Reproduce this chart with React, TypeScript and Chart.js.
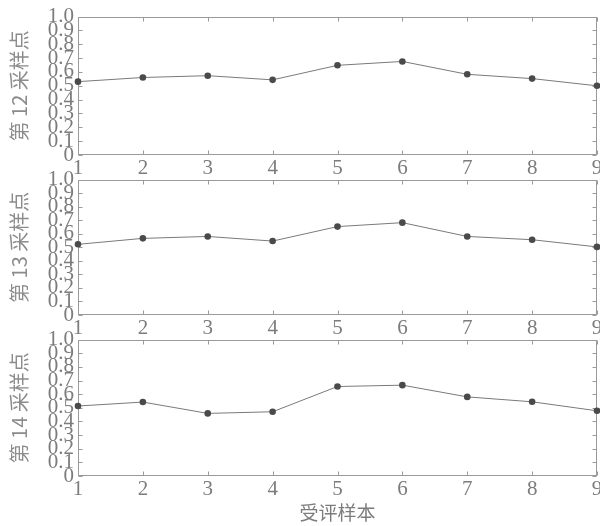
import React, { useEffect, useRef } from "react";
import { Chart, registerables } from "chart.js";

Chart.register(...registerables);

const samples = ["1", "2", "3", "4", "5", "6", "7", "8", "9"];
const yTickLabels = ["0", "0.1", "0.2", "0.3", "0.4", "0.5", "0.6", "0.7", "0.8", "0.9", "1.0"];
const point12 = [0.53, 0.56, 0.573, 0.543, 0.648, 0.676, 0.583, 0.552, 0.5];
const point13 = [0.522, 0.566, 0.58, 0.546, 0.653, 0.682, 0.58, 0.556, 0.503];
const point14 = [0.513, 0.542, 0.459, 0.471, 0.656, 0.666, 0.58, 0.544, 0.478];
const panelTitles = ["第 12 采样点", "第 13 采样点", "第 14 采样点"];
const xTitle = "受评样本";

const AXIS = "#9a9a9a";
const TEXT = "#7c7c7c";
const SERIF = '"Liberation Serif", "DejaVu Serif", serif';
const CJK = '"Noto Sans CJK SC", sans-serif';

const framePlugin = {
  id: "frame",
  beforeDatasetsDraw(chart: any) {
    const { ctx, chartArea: a, scales } = chart;
    ctx.save();
    ctx.strokeStyle = AXIS;
    ctx.lineWidth = 1;
    const L = Math.round(a.left) + 0.5;
    const R = Math.round(a.right) - 0.5;
    const T = Math.round(a.top) + 0.5;
    const B = Math.round(a.bottom) - 0.5;
    ctx.strokeRect(L, T, R - L, B - T);
    ctx.beginPath();
    scales.y.ticks.forEach((t: any) => {
      const y = Math.round(scales.y.getPixelForValue(t.value)) + 0.5;
      ctx.moveTo(L, y);
      ctx.lineTo(L + 4, y);
      ctx.moveTo(R, y);
      ctx.lineTo(R - 4, y);
    });
    scales.x.ticks.forEach((_t: any, i: number) => {
      const x = Math.round(scales.x.getPixelForTick(i)) + 0.5;
      ctx.moveTo(x, T);
      ctx.lineTo(x, T + 4);
      ctx.moveTo(x, B);
      ctx.lineTo(x, B - 4);
    });
    ctx.stroke();
    ctx.restore();
  },
};

type PanelProps = {
  values: number[];
  yTitle: string;
  showXTitle: boolean;
  top: number;
  height: number;
  xHeight: number;
};

function Panel({ values, yTitle, showXTitle, top, height, xHeight }: PanelProps) {
  const ref = useRef<HTMLCanvasElement | null>(null);
  useEffect(() => {
    if (!ref.current) return;
    const chart = new Chart(ref.current, {
      type: "line",
      data: {
        labels: samples,
        datasets: [
          {
            data: values,
            borderColor: "#7a7a7a",
            borderWidth: 1,
            pointRadius: 3.3,
            pointBackgroundColor: "#4a4a4a",
            pointBorderColor: "#4a4a4a",
            pointBorderWidth: 0,
            tension: 0,
            clip: false as any,
          },
        ],
      },
      options: {
        responsive: false,
        animation: false,
        events: [],
        layout: { padding: { top: 15, right: 23, left: 0, bottom: 0 } },
        plugins: { legend: { display: false }, tooltip: { enabled: false } },
        scales: {
          x: {
            type: "category",
            offset: false,
            grid: { display: false, drawTicks: false },
            border: { display: false },
            ticks: {
              color: TEXT,
              font: { family: SERIF, size: 21 },
              padding: 1,
              autoSkip: false,
              maxRotation: 0,
            },
            title: {
              display: showXTitle,
              text: xTitle,
              color: TEXT,
              font: { family: CJK, size: 19 },
              padding: { top: 0, bottom: 2 },
            },
            afterFit: (s: any) => {
              s.height = xHeight;
            },
          },
          y: {
            min: 0,
            max: 1,
            grid: { display: false, drawTicks: false },
            border: { display: false },
            ticks: {
              stepSize: 0.1,
              autoSkip: false,
              color: TEXT,
              font: { family: SERIF, size: 21 },
              padding: 4,
              callback: (v: any) => yTickLabels[Math.round(Number(v) * 10)],
            },
            title: {
              display: true,
              text: yTitle,
              color: "#8c8c8c",
              font: { family: CJK, size: 20 },
              padding: { top: 7, bottom: 0 },
            },
            afterFit: (s: any) => {
              s.width = 78;
            },
          },
        },
      },
      plugins: [framePlugin],
    } as any);
    return () => chart.destroy();
  }, [values, yTitle, showXTitle, xHeight]);
  return (
    <canvas
      ref={ref}
      width={620}
      height={height}
      style={{ position: "absolute", left: 0, top, display: "block" }}
    />
  );
}

export default function App() {
  return (
    <div
      style={{
        position: "fixed",
        left: 0,
        top: 0,
        width: 600,
        height: 526,
        overflow: "hidden",
        background: "#fff",
      }}
    >
      <Panel values={point12} yTitle={panelTitles[0]} showXTitle={false} top={0} height={185} xHeight={30} />
      <Panel values={point13} yTitle={panelTitles[1]} showXTitle={false} top={163} height={182} xHeight={30} />
      <Panel values={point14} yTitle={panelTitles[2]} showXTitle={true} top={323} height={203} xHeight={50} />
    </div>
  );
}
